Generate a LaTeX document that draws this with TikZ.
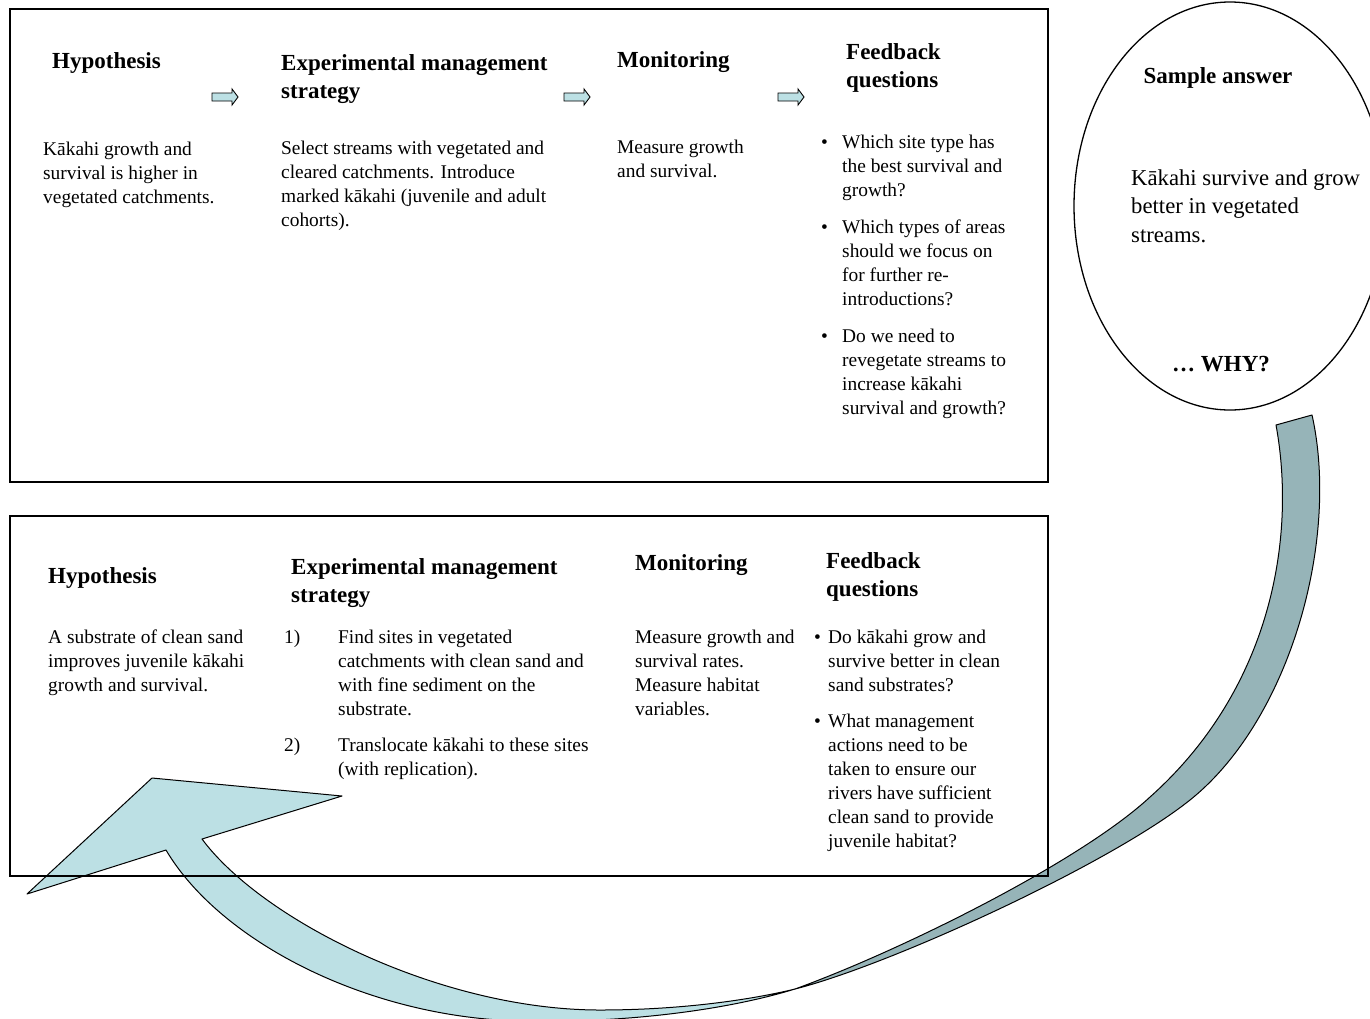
\documentclass[tikz,border=0pt]{standalone}
\usepackage{fontspec}
\setmainfont{Liberation Serif}
\usetikzlibrary{shapes.geometric}
\definecolor{lightc}{HTML}{BCE0E4}
\definecolor{darkc}{HTML}{96B4B8}
\newcommand\bodyf{\fontsize{19.4}{24}\selectfont}
\newcommand\headf{\fontsize{23}{28}\selectfont\bfseries}
\newcommand\ansf{\fontsize{22.7}{28.5}\selectfont}
\tikzset{
  body/.style={anchor=north west, inner sep=0pt, align=left, font=\bodyf},
  head/.style={anchor=north west, inner sep=0pt, align=left, font=\headf},
  frame/.style={draw, line width=1.2pt, inner sep=0pt},
  ribbon/.style={draw, line width=1pt, line join=round},
  smallarrow/.pic={\draw[line width=0.9pt, fill=lightc] (-13,-4) -- (7,-4) -- (7,-8) -- (13,0) -- (7,8) -- (7,4) -- (-13,4) -- cycle;}
}
\begin{document}
\begin{tikzpicture}[x=1pt, y=-1pt]
\useasboundingbox (0,0) rectangle (1370,1018);
\clip (0,0) rectangle (1370,1018);

% big curved arrow: light front face with head
\coordinate (tw) at (795,989);
\path[ribbon, fill=lightc] (27,894) -- (152,778) -- (342,796) -- (202,839)
  .. controls (262,920) and (440,1010) .. (600,1010)
  .. controls (680,1010) and (750,1000) .. (tw)
  .. controls (720,1012) and (620,1022) .. (540,1021)
  .. controls (380,1024) and (222,945) .. (166,850)
  -- cycle;
% dark back face (tail)
\path[ribbon, fill=darkc] (tw)
  .. controls (900,951) and (1080,862) .. (1150,797)
  .. controls (1270,690) and (1297,540) .. (1276,425)
  -- (1312,415)
  .. controls (1340,540) and (1290,720) .. (1190,800)
  .. controls (1110,864) and (890,965) .. (tw)
  -- cycle;

% frames
\node[frame, minimum width=1038pt, minimum height=473pt] (top) at (529,245.5) {};
\node[frame, minimum width=1038pt, minimum height=360pt] (bot) at (529,696) {};
\node[draw, ellipse, line width=1.3pt, inner sep=0pt, minimum width=312pt, minimum height=408pt] (ans) at (1230,206) {};

% small arrows
\pic at (225,97) {smallarrow};
\pic at (577,97) {smallarrow};
\pic at (791,97) {smallarrow};

% top box headings
\node[head] (h1) at (52,48.4) {\strut Hypothesis};
\node[head] (h2) at (281,50.4) {\strut Experimental management\\strategy};
\node[head] (h3) at (617,47.4) {\strut Monitoring};
\node[head] (h4) at (846,39.4) {\strut Feedback\\questions};

% top box texts
\node[body] (t1) at (43,138.2) {\strut Kākahi growth and\\survival is higher in\\vegetated catchments.};
\node[body] (t2) at (281,137.2) {\strut Select streams with vegetated and\\cleared catchments. Introduce\\marked kākahi (juvenile and adult\\cohorts).};
\node[body] (t3) at (617,136.2) {\strut Measure growth\\and survival.};
\node[body] (b1) at (821,131.2) {\strut •};
\node[body] (q1) at (842,131.2) {\strut Which site type has\\the best survival and\\growth?};
\node[body] (b2) at (821,216.2) {\strut •};
\node[body] (q2) at (842,216.2) {\strut Which types of areas\\should we focus on\\for further re-\\introductions?};
\node[body] (b3) at (821,325.2) {\strut •};
\node[body] (q3) at (842,325.2) {\strut Do we need to\\revegetate streams to\\increase kākahi\\survival and growth?};

% ellipse texts
\node[head, anchor=north] (sa) at (1218,63.4) {\strut Sample answer};
\node[anchor=north west, inner sep=0pt, align=left, font=\ansf] (sb) at (1131,165) {\strut Kākahi survive and grow\\better in vegetated\\streams.};
\node[head, anchor=north] (why) at (1221,351.4) {\strut … WHY?};

% bottom box headings
\node[head] (g1) at (48,563.4) {\strut Hypothesis};
\node[head] (g2) at (291,554.4) {\strut Experimental management\\strategy};
\node[head] (g3) at (635,550.4) {\strut Monitoring};
\node[head] (g4) at (826,548.4) {\strut Feedback\\questions};

% bottom box texts
\node[body] (u1) at (48,626.2) {\strut A substrate of clean sand\\improves juvenile kākahi\\growth and survival.};
\node[body] (n1) at (284,626.2) {\strut 1)};
\node[body] (s1) at (338,626.2) {\strut Find sites in vegetated\\catchments with clean sand and\\with fine sediment on the\\substrate.};
\node[body] (n2) at (284,734.2) {\strut 2)};
\node[body] (s2) at (338,734.2) {\strut Translocate kākahi to these sites\\(with replication).};
\node[body] (u3) at (635,626.2) {\strut Measure growth and\\survival rates.\\Measure habitat\\variables.};
\node[body] (c1) at (814,626.2) {\strut •};
\node[body] (f1) at (828,626.2) {\strut Do kākahi grow and\\survive better in clean\\sand substrates?};
\node[body] (c2) at (814,710.2) {\strut •};
\node[body] (f2) at (828,710.2) {\strut What management\\actions need to be\\taken to ensure our\\rivers have sufficient\\clean sand to provide\\juvenile habitat?};
\end{tikzpicture}
\end{document}
